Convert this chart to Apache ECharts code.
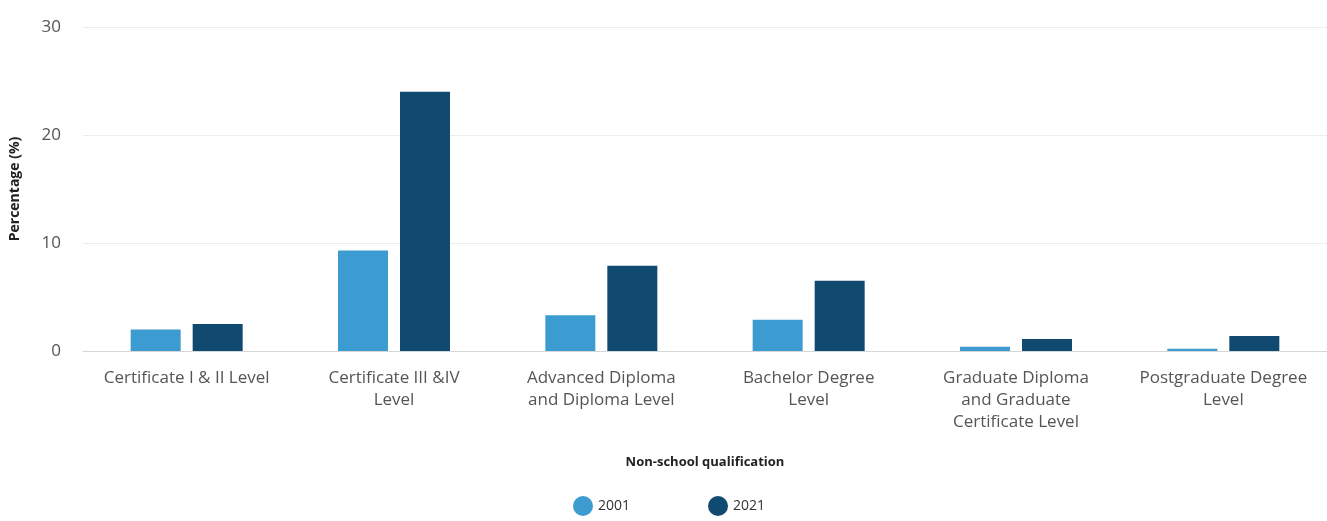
<!DOCTYPE html>
<html>
<head>
<meta charset="utf-8">
<title>Non-school qualification</title>
<script src="https://cdn.jsdelivr.net/npm/echarts@6/dist/echarts.min.js"></script>
<style>
  html, body { margin: 0; padding: 0; background: #fff; }
  #main { width: 1327px; height: 521px; }
</style>
</head>
<body>
<div id="main"></div>
<script type="text/javascript">
    // data
    var categories = [
        'Certificate I & II Level',
        'Certificate III &IV\nLevel',
        'Advanced Diploma\nand Diploma Level',
        'Bachelor Degree\nLevel',
        'Graduate Diploma\nand Graduate\nCertificate Level',
        'Postgraduate Degree\nLevel'
    ];
    var values2001 = [2.0, 9.3, 3.3, 2.9, 0.4, 0.2];
    var values2021 = [2.5, 24.0, 7.9, 6.5, 1.1, 1.4];
    var yTicks = [0, 10, 20, 30];

    var myChart = echarts.init(document.getElementById('main'));

    var font = '"Open Sans", "Noto Sans", sans-serif';

    var option = {
        animation: false,
        textStyle: { fontFamily: font },
        grid: { left: 83, right: -7, top: 27, bottom: 170 },
        legend: {
            bottom: 0,
            left: 568,
            itemWidth: 20,
            itemHeight: 20,
            itemGap: 78,
            icon: 'circle',
            textStyle: { fontSize: 14, color: '#333', fontFamily: font },
            data: ['2001', '2021']
        },
        xAxis: {
            type: 'category',
            data: categories,
            name: 'Non-school qualification',
            nameLocation: 'middle',
            nameGap: 105,
            nameTextStyle: { fontSize: 13, fontWeight: 'bold', color: '#222' },
            axisLine: { lineStyle: { color: '#d6d6d6' } },
            axisTick: { show: false },
            axisLabel: { fontSize: 17, color: '#555', lineHeight: 22, margin: 16, interval: 0 }
        },
        yAxis: {
            type: 'value',
            min: yTicks[0],
            max: yTicks[yTicks.length - 1],
            interval: 10,
            name: 'Percentage (%)',
            nameLocation: 'middle',
            nameGap: 61,
            nameTextStyle: { fontSize: 14, fontWeight: 'bold', color: '#222' },
            axisLabel: { fontSize: 17, color: '#555', margin: 22 },
            splitLine: { lineStyle: { color: '#ececec' } }
        },
        series: [{
            name: '2001',
            type: 'bar',
            data: values2001,
            barWidth: 50,
            barGap: '24%',
            itemStyle: { color: '#3c9bd0' }
        }, {
            name: '2021',
            type: 'bar',
            data: values2021,
            barWidth: 50,
            itemStyle: { color: '#114a70' }
        }]
    };

    myChart.setOption(option);
</script>
</body>
</html>
